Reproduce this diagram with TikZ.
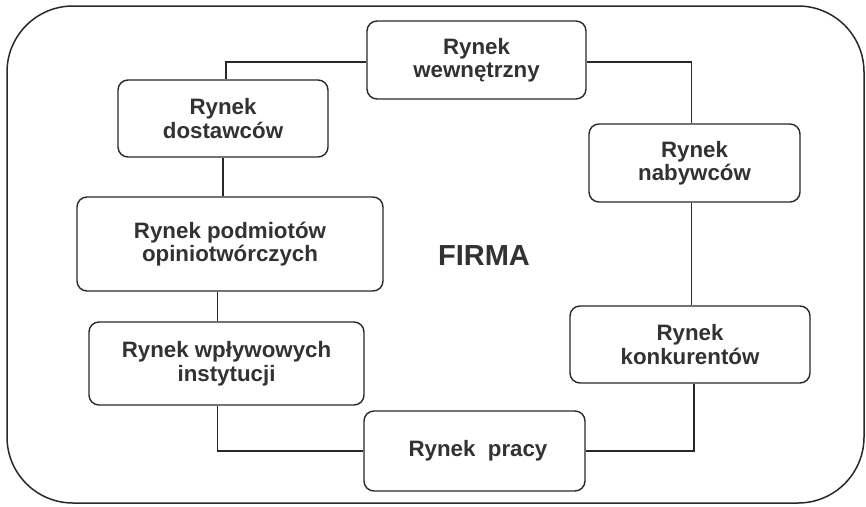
\documentclass[tikz,border=0pt]{standalone}
\usepackage{fontspec}
\setmainfont{Liberation Sans}
\definecolor{ink}{RGB}{40,40,40}
\definecolor{txt}{RGB}{50,50,50}
\tikzset{
  mkt/.style={draw=ink, line width=1.4pt, rounded corners=10pt, inner sep=0pt,
    align=center, text=txt, font=\bfseries\fontsize{22.3}{23.5}\selectfont},
  link/.style={draw=ink, line width=1.3pt}
}
\begin{document}
\begin{tikzpicture}[x=1pt,y=-1pt]
\useasboundingbox (0,0) rectangle (866,506);
\draw[ink, line width=1.5pt, rounded corners=66pt] (7,6) rectangle (864,503);
\node[mkt, minimum width=219pt, minimum height=78pt] (wew) at (476.5,60) {Rynek\\wewnętrzny};
\node[mkt, minimum width=210pt, minimum height=77pt] (dost) at (223,118.5) {Rynek\\dostawców};
\node[mkt, minimum width=306pt, minimum height=94pt] (podm) at (230,244) {Rynek podmiotów\\opiniotwórczych};
\node[mkt, minimum width=275pt, minimum height=83pt] (wpl) at (226.5,363.5) {Rynek wpływowych\\instytucji};
\node[mkt, minimum width=221pt, minimum height=80pt] (pracy) at (474.5,451) {\hspace*{7pt}Rynek\ \ pracy};
\node[mkt, minimum width=240pt, minimum height=77pt] (konk) at (690,344.5) {Rynek\\konkurentów};
\node[mkt, minimum width=211pt, minimum height=78pt] (nab) at (694.5,163) {Rynek\\nabywców};
\node[text=txt, font=\bfseries\fontsize{29}{32}\selectfont] (firma) at (484,256) {FIRMA};
\draw[link] ([xshift=3pt]dost.north) |- ([yshift=-2pt]wew.west);
\draw[link] ([yshift=-2pt]wew.east) -| ([xshift=-3pt]nab.north);
\draw[link] ([xshift=-3pt]nab.south) -- ([xshift=-3pt]nab.south |- konk.north);
\draw[link] ([xshift=4pt]konk.south) |- (pracy.east);
\draw[link] (pracy.west) -| ([xshift=-9pt]wpl.south);
\draw[link] ([xshift=-9pt]wpl.north) -- ([xshift=-9pt]wpl.north |- podm.south);
\draw[link] ([xshift=-7pt]podm.north) -- ([xshift=-7pt]podm.north |- dost.south);
\end{tikzpicture}
\end{document}
